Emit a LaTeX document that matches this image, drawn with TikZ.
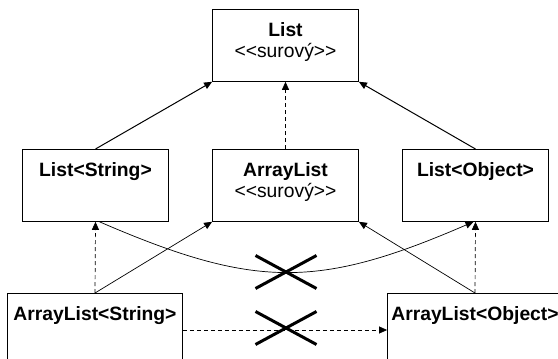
\documentclass[tikz,border=0pt]{standalone}
\usepackage{fontspec}
\setmainfont{Liberation Sans}[Ligatures=TeXOff]
\usetikzlibrary{positioning,arrows.meta,shapes.misc}

\begin{document}
\begin{tikzpicture}[x=1pt, y=-1pt, >={Triangle[length=8pt, width=7pt]},
  font=\fontsize{19.3}{21}\selectfont,
  cls/.style={draw, line width=0.8pt, anchor=north, align=center,
              minimum width=146pt, inner ysep=13pt,
              text height=14pt, text depth=32pt},
  raw/.style={cls, text height=35pt, text depth=11pt},
  wide/.style={cls, minimum width=175pt},
  gen/.style={->, line width=1pt},
  impl/.style={->, line width=0.7pt},
  dep/.style={->, line width=0.7pt, dash pattern=on 4pt off 3pt},
  nope/.style={cross out, draw, line width=3pt, minimum width=58pt,
               minimum height=30pt, inner sep=0pt}]
  \useasboundingbox (0,0) rectangle (558,359);
  \clip (0,0) rectangle (558,359);
  % raw types and parameterised types
  \node[raw] (list) at (285.5,9) {\textbf{List}\\<<surový>>};
  \node[cls] (lstr) at (95.5,149) {\textbf{List<String>}};
  \node[raw] (alist) at (285.5,149) {\textbf{ArrayList}\\<<surový>>};
  \node[cls] (lobj) at (475.5,149) {\textbf{List<Object>}};
  \node[wide] (astr) at (95,293) {\textbf{ArrayList<String>}};
  \node[wide] (aobj) at (475,293) {\textbf{ArrayList<Object>}};
  % relations
  \draw[gen] (lstr.north) -- (list.south west);
  \draw[gen] (lobj.north) -- (list.south east);
  \draw[dep] (alist.north) -- (list.south);
  \draw[dep] (astr.north) -- (lstr.south);
  \draw[dep] (aobj.north) -- (lobj.south);
  \draw[impl] (astr.north) -- (alist.south west);
  \draw[impl] (aobj.north) -- (alist.south east);
  \draw[impl] ([xshift=4pt]lstr.south) .. controls (255,289) and (318,289) .. ([xshift=-2pt]lobj.south);
  \draw[dep] (astr.east |- 0,330) -- (aobj.west |- 0,330);
  % not a subtype
  \node[nope] (nocurve) at (286,272) {};
  \node[nope] (noline) at (286,328) {};
\end{tikzpicture}
\end{document}
